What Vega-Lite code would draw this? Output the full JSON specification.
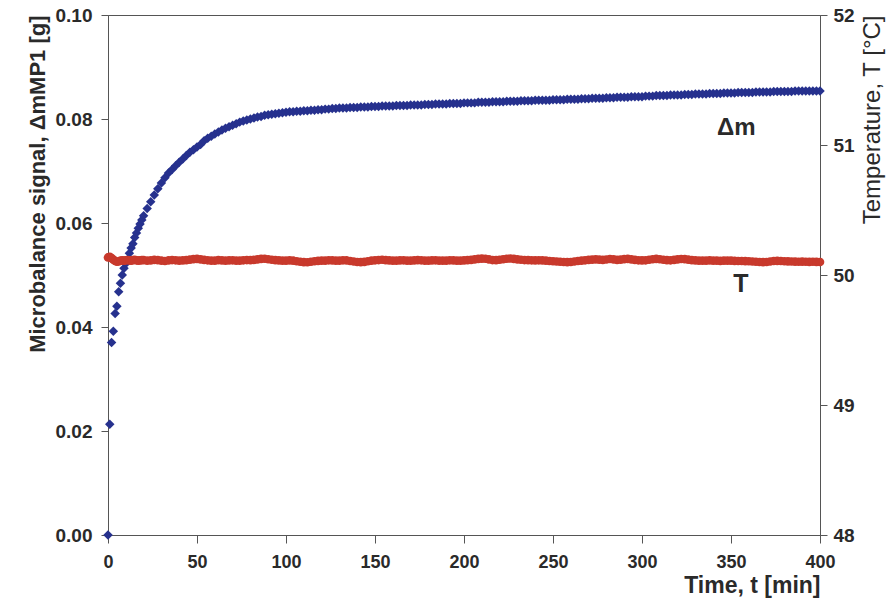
{
  "$schema": "https://vega.github.io/schema/vega-lite/v6.json",
  "width": 712,
  "height": 520,
  "autosize": {"type": "none"},
  "padding": {"left": 108, "top": 15, "right": 76, "bottom": 66},
  "background": "white",
  "config": {
    "view": {"stroke": "#555", "strokeWidth": 1},
    "axis": {
      "domainColor": "#555",
      "tickColor": "#555",
      "grid": false,
      "labelColor": "#2a2a2a",
      "titleColor": "#2a2a2a",
      "labelFont": "Liberation Sans",
      "titleFont": "Liberation Sans"
    }
  },
  "datasets": {
    "series": [
      {"t":0,"m":0.0000,"T":50.135},{"t":1,"m":0.0213,"T":50.14},{"t":2,"m":0.0370,"T":50.13},{"t":3,"m":0.0392,"T":50.118},{"t":4,"m":0.0426,"T":50.108},{"t":5,"m":0.0440,"T":50.102},{"t":6,"m":0.0468,"T":50.105},{"t":7,"m":0.0484,"T":50.11},{"t":8,"m":0.0500,"T":50.112},{"t":9,"m":0.0513,"T":50.11},{"t":10,"m":0.0522,"T":50.113},{"t":11,"m":0.0530,"T":50.115},{"t":12,"m":0.0542,"T":50.112},{"t":13,"m":0.0552,"T":50.11},{"t":14,"m":0.0560,"T":50.114},{"t":15,"m":0.0572,"T":50.116},{"t":16,"m":0.0581,"T":50.113},{"t":17,"m":0.0590,"T":50.11},{"t":18,"m":0.0598,"T":50.112},{"t":19,"m":0.0606,"T":50.115},{"t":20,"m":0.0614,"T":50.114},
      {"t":22,"m":0.0628,"T":50.11},{"t":24,"m":0.0641,"T":50.112},{"t":26,"m":0.0654,"T":50.116},{"t":28,"m":0.0666,"T":50.114},{"t":30,"m":0.0677,"T":50.11},{"t":32,"m":0.0687,"T":50.108},{"t":34,"m":0.0696,"T":50.112},{"t":36,"m":0.0703,"T":50.115},{"t":38,"m":0.0710,"T":50.113},{"t":40,"m":0.0717,"T":50.11},
      {"t":42,"m":0.0723,"T":50.112},{"t":44,"m":0.0730,"T":50.114},{"t":46,"m":0.0736,"T":50.118},{"t":48,"m":0.0741,"T":50.122},{"t":50,"m":0.0746,"T":50.124},{"t":52,"m":0.0751,"T":50.12},{"t":54,"m":0.0758,"T":50.116},{"t":56,"m":0.0763,"T":50.113},{"t":58,"m":0.0767,"T":50.11},{"t":60,"m":0.0771,"T":50.111},
      {"t":62,"m":0.0775,"T":50.114},{"t":64,"m":0.0779,"T":50.112},{"t":66,"m":0.0782,"T":50.11},{"t":68,"m":0.0785,"T":50.112},{"t":70,"m":0.0788,"T":50.113},{"t":72,"m":0.0791,"T":50.111},{"t":74,"m":0.0794,"T":50.11},{"t":76,"m":0.0796,"T":50.113},{"t":78,"m":0.0798,"T":50.115},{"t":80,"m":0.0800,"T":50.114},
      {"t":82,"m":0.0802,"T":50.116},{"t":84,"m":0.0804,"T":50.12},{"t":86,"m":0.0805,"T":50.124},{"t":88,"m":0.0807,"T":50.125},{"t":90,"m":0.0808,"T":50.121},{"t":92,"m":0.0809,"T":50.117},{"t":94,"m":0.0810,"T":50.114},{"t":96,"m":0.0811,"T":50.112},{"t":98,"m":0.0812,"T":50.11},{"t":100,"m":0.0813,"T":50.111},
      {"t":102,"m":0.0814,"T":50.112},{"t":104,"m":0.0814,"T":50.11},{"t":106,"m":0.0815,"T":50.106},{"t":108,"m":0.0815,"T":50.102},{"t":110,"m":0.0816,"T":50.099},{"t":112,"m":0.0816,"T":50.098},{"t":114,"m":0.0817,"T":50.102},{"t":116,"m":0.0817,"T":50.106},{"t":118,"m":0.0818,"T":50.109},{"t":120,"m":0.0818,"T":50.11},
      {"t":122,"m":0.0819,"T":50.111},{"t":124,"m":0.0819,"T":50.113},{"t":126,"m":0.0820,"T":50.112},{"t":128,"m":0.0820,"T":50.11},{"t":130,"m":0.0821,"T":50.111},{"t":132,"m":0.0821,"T":50.113},{"t":134,"m":0.0821,"T":50.112},{"t":136,"m":0.0822,"T":50.108},{"t":138,"m":0.0822,"T":50.104},{"t":140,"m":0.0822,"T":50.1},
      {"t":142,"m":0.0823,"T":50.099},{"t":144,"m":0.0823,"T":50.101},{"t":146,"m":0.0823,"T":50.106},{"t":148,"m":0.0824,"T":50.11},{"t":150,"m":0.0824,"T":50.113},{"t":152,"m":0.0824,"T":50.115},{"t":154,"m":0.0825,"T":50.117},{"t":156,"m":0.0825,"T":50.114},{"t":158,"m":0.0825,"T":50.112},{"t":160,"m":0.0825,"T":50.111},
      {"t":162,"m":0.0826,"T":50.11},{"t":164,"m":0.0826,"T":50.112},{"t":166,"m":0.0826,"T":50.113},{"t":168,"m":0.0826,"T":50.111},{"t":170,"m":0.0827,"T":50.11},{"t":172,"m":0.0827,"T":50.112},{"t":174,"m":0.0827,"T":50.114},{"t":176,"m":0.0827,"T":50.113},{"t":178,"m":0.0828,"T":50.111},{"t":180,"m":0.0828,"T":50.11},
      {"t":182,"m":0.0828,"T":50.112},{"t":184,"m":0.0829,"T":50.113},{"t":186,"m":0.0829,"T":50.111},{"t":188,"m":0.0829,"T":50.11},{"t":190,"m":0.0829,"T":50.111},{"t":192,"m":0.0830,"T":50.113},{"t":194,"m":0.0830,"T":50.112},{"t":196,"m":0.0830,"T":50.11},{"t":198,"m":0.0830,"T":50.111},{"t":200,"m":0.0831,"T":50.112},
      {"t":202,"m":0.0831,"T":50.114},{"t":204,"m":0.0831,"T":50.116},{"t":206,"m":0.0831,"T":50.12},{"t":208,"m":0.0832,"T":50.124},{"t":210,"m":0.0832,"T":50.126},{"t":212,"m":0.0832,"T":50.125},{"t":214,"m":0.0832,"T":50.12},{"t":216,"m":0.0833,"T":50.115},{"t":218,"m":0.0833,"T":50.114},{"t":220,"m":0.0833,"T":50.117},
      {"t":222,"m":0.0833,"T":50.121},{"t":224,"m":0.0834,"T":50.125},{"t":226,"m":0.0834,"T":50.127},{"t":228,"m":0.0834,"T":50.124},{"t":230,"m":0.0834,"T":50.12},{"t":232,"m":0.0835,"T":50.117},{"t":234,"m":0.0835,"T":50.115},{"t":236,"m":0.0835,"T":50.114},{"t":238,"m":0.0835,"T":50.113},{"t":240,"m":0.0836,"T":50.112},
      {"t":242,"m":0.0836,"T":50.113},{"t":244,"m":0.0836,"T":50.112},{"t":246,"m":0.0836,"T":50.11},{"t":248,"m":0.0836,"T":50.108},{"t":250,"m":0.0837,"T":50.106},{"t":252,"m":0.0837,"T":50.104},{"t":254,"m":0.0837,"T":50.102},{"t":256,"m":0.0837,"T":50.1},{"t":258,"m":0.0838,"T":50.099},{"t":260,"m":0.0838,"T":50.1},
      {"t":262,"m":0.0838,"T":50.104},{"t":264,"m":0.0838,"T":50.108},{"t":266,"m":0.0839,"T":50.111},{"t":268,"m":0.0839,"T":50.113},{"t":270,"m":0.0839,"T":50.116},{"t":272,"m":0.0840,"T":50.118},{"t":274,"m":0.0840,"T":50.12},{"t":276,"m":0.0840,"T":50.118},{"t":278,"m":0.0840,"T":50.116},{"t":280,"m":0.0841,"T":50.119},
      {"t":282,"m":0.0841,"T":50.123},{"t":284,"m":0.0841,"T":50.12},{"t":286,"m":0.0842,"T":50.116},{"t":288,"m":0.0842,"T":50.118},{"t":290,"m":0.0842,"T":50.122},{"t":292,"m":0.0842,"T":50.124},{"t":294,"m":0.0843,"T":50.12},{"t":296,"m":0.0843,"T":50.116},{"t":298,"m":0.0843,"T":50.113},{"t":300,"m":0.0843,"T":50.112},
      {"t":302,"m":0.0844,"T":50.113},{"t":304,"m":0.0844,"T":50.117},{"t":306,"m":0.0844,"T":50.121},{"t":308,"m":0.0845,"T":50.124},{"t":310,"m":0.0845,"T":50.121},{"t":312,"m":0.0845,"T":50.117},{"t":314,"m":0.0845,"T":50.114},{"t":316,"m":0.0846,"T":50.113},{"t":318,"m":0.0846,"T":50.116},{"t":320,"m":0.0846,"T":50.12},
      {"t":322,"m":0.0846,"T":50.123},{"t":324,"m":0.0847,"T":50.122},{"t":326,"m":0.0847,"T":50.118},{"t":328,"m":0.0847,"T":50.114},{"t":330,"m":0.0848,"T":50.112},{"t":332,"m":0.0848,"T":50.111},{"t":334,"m":0.0848,"T":50.11},{"t":336,"m":0.0848,"T":50.111},{"t":338,"m":0.0849,"T":50.112},{"t":340,"m":0.0849,"T":50.111},
      {"t":342,"m":0.0849,"T":50.11},{"t":344,"m":0.0849,"T":50.109},{"t":346,"m":0.0850,"T":50.11},{"t":348,"m":0.0850,"T":50.111},{"t":350,"m":0.0850,"T":50.11},{"t":352,"m":0.0850,"T":50.109},{"t":354,"m":0.0851,"T":50.108},{"t":356,"m":0.0851,"T":50.108},{"t":358,"m":0.0851,"T":50.107},{"t":360,"m":0.0851,"T":50.106},
      {"t":362,"m":0.0851,"T":50.104},{"t":364,"m":0.0852,"T":50.102},{"t":366,"m":0.0852,"T":50.1},{"t":368,"m":0.0852,"T":50.099},{"t":370,"m":0.0852,"T":50.1},{"t":372,"m":0.0852,"T":50.104},{"t":374,"m":0.0853,"T":50.108},{"t":376,"m":0.0853,"T":50.109},{"t":378,"m":0.0853,"T":50.108},{"t":380,"m":0.0853,"T":50.106},
      {"t":382,"m":0.0853,"T":50.105},{"t":384,"m":0.0853,"T":50.104},{"t":386,"m":0.0854,"T":50.103},{"t":388,"m":0.0854,"T":50.102},{"t":390,"m":0.0854,"T":50.103},{"t":392,"m":0.0854,"T":50.102},{"t":394,"m":0.0854,"T":50.101},{"t":396,"m":0.0854,"T":50.102},{"t":398,"m":0.0854,"T":50.101},{"t":400,"m":0.0854,"T":50.1}
    ]
  },
  "layer": [
    {
      "encoding": {
        "x": {
          "field": "t", "type": "quantitative",
          "scale": {"domain": [0, 400], "nice": false},
          "axis": {
            "values": [0, 50, 100, 150, 200, 250, 300, 350, 400],
            "title": "Time, t [min]",
            "titleAnchor": "end",
            "titleAlign": "right",
            "titleFontSize": 23,
            "titleFontWeight": "bold",
            "titlePadding": 3,
            "labelFontSize": 18,
            "labelFontWeight": "bold",
            "tickSize": 8,
            "labelPadding": 10,
            "labelFlush": false
          }
        },
        "y": {
          "field": "m", "type": "quantitative",
          "scale": {"domain": [0, 0.1], "nice": false},
          "axis": {
            "orient": "left",
            "values": [0, 0.02, 0.04, 0.06, 0.08, 0.1],
            "format": ".2f",
            "title": "Microbalance signal, ΔmMP1 [g]",
            "titleAnchor": "end",
            "titleFontSize": 22,
            "titleFontWeight": "bold",
            "titlePadding": 6,
            "labelFontSize": 19,
            "labelFontWeight": "bold",
            "tickSize": 7,
            "labelPadding": 9
          }
        }
      },
      "layer": [
        {
          "data": {"name": "series"},
          "mark": {"type": "point", "shape": "diamond", "filled": true, "size": 90, "color": "#26318e", "opacity": 1}
        },
        {
          "data": {"values": [{"t": 353, "m": 0.0783, "label": "Δm"}]},
          "mark": {"type": "text", "fontSize": 24, "fontWeight": "bold", "font": "Liberation Sans", "color": "#2a2a2a", "align": "center", "baseline": "middle"},
          "encoding": {"text": {"field": "label"}}
        }
      ]
    },
    {
      "encoding": {
        "x": {"field": "t", "type": "quantitative", "scale": {"domain": [0, 400], "nice": false}},
        "y": {
          "field": "T", "type": "quantitative",
          "scale": {"domain": [48, 52], "nice": false},
          "axis": {
            "orient": "right",
            "values": [48, 49, 50, 51, 52],
            "title": "Temperature, T [°C]",
            "titleAnchor": "end",
            "titleAngle": -90,
            "titleBaseline": "top",
            "titleFontSize": 24,
            "titleFontWeight": "normal",
            "titlePadding": 6,
            "labelFontSize": 19,
            "labelFontWeight": "bold",
            "tickSize": 7,
            "labelPadding": 6
          }
        }
      },
      "layer": [
        {
          "data": {"name": "series"},
          "mark": {"type": "point", "shape": "circle", "filled": true, "size": 75, "color": "#c8392c", "opacity": 1}
        },
        {
          "data": {"values": [{"t": 355.5, "T": 49.93, "label": "T"}]},
          "mark": {"type": "text", "fontSize": 25, "fontWeight": "bold", "font": "Liberation Sans", "color": "#2a2a2a", "align": "center", "baseline": "middle"},
          "encoding": {"text": {"field": "label"}}
        }
      ]
    }
  ],
  "resolve": {"scale": {"y": "independent"}}
}
